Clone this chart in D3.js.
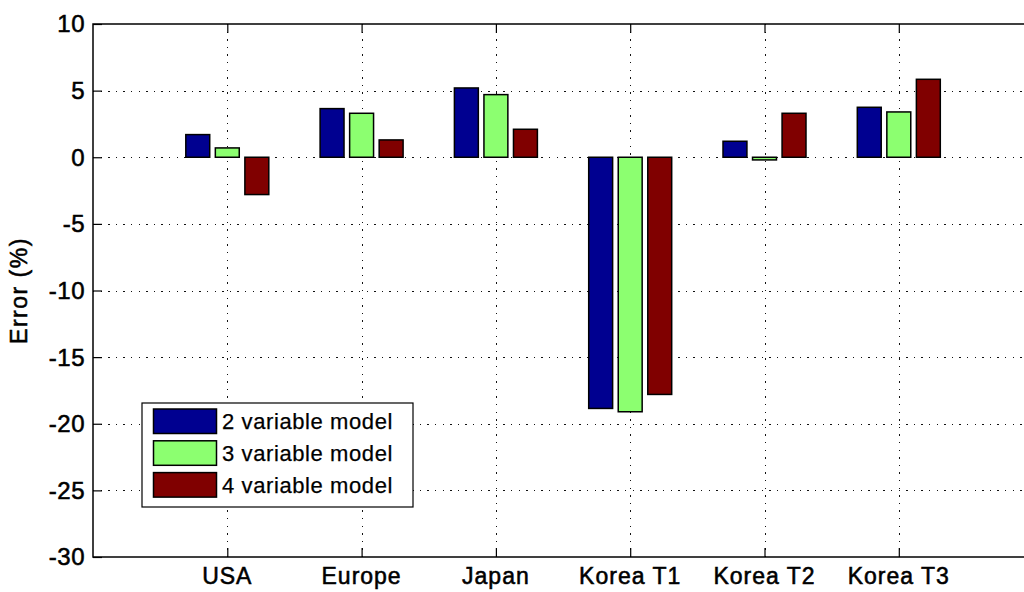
<!DOCTYPE html>
<html>
<head>
<meta charset="utf-8">
<script src="https://cdn.jsdelivr.net/npm/d3@7"></script>
<style>
  html, body { margin: 0; padding: 0; background: #fff; overflow: hidden; }
  svg { display: block; }
  text { font-family: Arial, "Liberation Sans", sans-serif; fill: #000; stroke: #000; stroke-width: 0.55px; }
</style>
</head>
<body>
<svg id="chart" width="1024" height="592"></svg>
<script>
// Regions compared
const categories = ["USA", "Europe", "Japan", "Korea T1", "Korea T2", "Korea T3"];

// Prediction error (%) for each model
const series = ["2 variable model", "3 variable model", "4 variable model"];
const model2 = [1.7, 3.65, 5.2, -18.85, 1.2, 3.75];
const model3 = [0.7, 3.3, 4.7, -19.1, -0.2, 3.4];
const model4 = [-2.8, 1.3, 2.1, -17.8, 3.3, 5.85];
const seriesColors = ["#000090", "#8cff70", "#800000"];

// Y axis ticks
const yTicks = [10, 5, 0, -5, -10, -15, -20, -25, -30];

const values = [model2, model3, model4];
const rows = categories.map((c, i) => ({
  category: c,
  index: i + 1,
  bars: series.map((s, k) => ({ series: s, value: values[k][i], color: seriesColors[k] }))
}));

const svg = d3.select("#chart");
const plot = { left: 93, top: 24, bottom: 557, unit: 134.3 };

// x runs from 0 to 7 with one group at each integer; the right edge falls off the canvas
const x = d3.scaleLinear().domain([0, 7]).range([plot.left, plot.left + 7 * plot.unit]);
const y = d3.scaleLinear().domain([-30, 10]).range([plot.bottom, plot.top]);
const groupWidth = 0.618 * plot.unit;
const xInner = d3.scaleBand().domain(series).range([-groupWidth / 2, groupWidth / 2]).paddingInner(0.19);

const xr = x.range();

// Dotted grid
const grid = svg.append("g").attr("stroke", "#111").attr("stroke-width", 1.1)
  .attr("stroke-dasharray", "1.4,6.2").attr("shape-rendering", "crispEdges");
grid.selectAll("line.h").data(yTicks.filter(t => t !== 10 && t !== -30)).join("line")
  .attr("class", "h")
  .attr("x1", xr[0]).attr("x2", xr[1])
  .attr("y1", d => Math.round(y(d)) + 0.5).attr("y2", d => Math.round(y(d)) + 0.5);
grid.selectAll("line.v").data(rows).join("line")
  .attr("class", "v")
  .attr("x1", d => Math.round(x(d.index)) + 0.5).attr("x2", d => Math.round(x(d.index)) + 0.5)
  .attr("y1", plot.top).attr("y2", plot.bottom);

// Bars
const groups = svg.append("g").selectAll("g").data(rows).join("g")
  .attr("transform", d => `translate(${x(d.index)},0)`);
groups.selectAll("rect").data(d => d.bars).join("rect")
  .attr("x", d => xInner(d.series))
  .attr("width", xInner.bandwidth())
  .attr("y", d => y(Math.max(0, d.value)))
  .attr("height", d => Math.abs(y(d.value) - y(0)))
  .attr("fill", d => d.color)
  .attr("stroke", "#000")
  .attr("stroke-width", 1.5);

// Axes box with inward ticks
const tickLen = 9;
const leftAxis = svg.append("g").attr("transform", `translate(${plot.left},0)`)
  .call(d3.axisRight(y).tickValues(yTicks).tickSize(tickLen).tickFormat(""));
const topAxis = svg.append("g").attr("transform", `translate(0,${plot.top})`)
  .call(d3.axisBottom(x).tickValues(rows.map(r => r.index)).tickSize(tickLen).tickFormat(""));
const bottomAxis = svg.append("g").attr("transform", `translate(0,${plot.bottom})`)
  .call(d3.axisTop(x).tickValues(rows.map(r => r.index)).tickSize(tickLen).tickFormat(""));
[leftAxis, topAxis, bottomAxis].forEach(g => {
  g.select(".domain").remove();
  g.selectAll("line").attr("stroke", "#000").attr("stroke-width", 1.2);
});
svg.append("rect")
  .attr("x", xr[0]).attr("y", plot.top)
  .attr("width", xr[1] - xr[0]).attr("height", plot.bottom - plot.top)
  .attr("fill", "none").attr("stroke", "#000").attr("stroke-width", 1.5);

// Tick labels
svg.append("g").selectAll("text").data(yTicks).join("text")
  .attr("x", 85).attr("y", d => y(d)).attr("dy", "0.35em")
  .attr("text-anchor", "end").attr("font-size", 24).attr("letter-spacing", 0.5)
  .text(d => d);
svg.append("g").selectAll("text").data(rows).join("text")
  .attr("x", d => x(d.index)).attr("y", 584)
  .attr("text-anchor", "middle").attr("font-size", 23).attr("letter-spacing", 1.0)
  .text(d => d.category);

// Y axis title
svg.append("text")
  .attr("transform", `translate(27,${(plot.top + plot.bottom) / 2}) rotate(-90)`)
  .attr("text-anchor", "middle").attr("font-size", 23).attr("letter-spacing", 1.5)
  .text("Error (%)");

// Legend
const legend = svg.append("g").attr("transform", "translate(142,403)");
legend.append("rect").attr("width", 271).attr("height", 104)
  .attr("fill", "#fff").attr("stroke", "#000").attr("stroke-width", 1.2);
const item = legend.selectAll("g").data(series).join("g")
  .attr("transform", (d, i) => `translate(0,${6 + i * 31.8})`);
item.append("rect").attr("x", 11.5).attr("width", 63).attr("height", 24.5)
  .attr("fill", (d, i) => seriesColors[i]).attr("stroke", "#000").attr("stroke-width", 1.5);
item.append("text").attr("x", 80).attr("y", 12.5).attr("dy", "0.36em")
  .attr("font-size", 22).attr("letter-spacing", 0.6)
  .style("stroke-width", "0.25px")
  .text(d => d);
</script>
</body>
</html>
